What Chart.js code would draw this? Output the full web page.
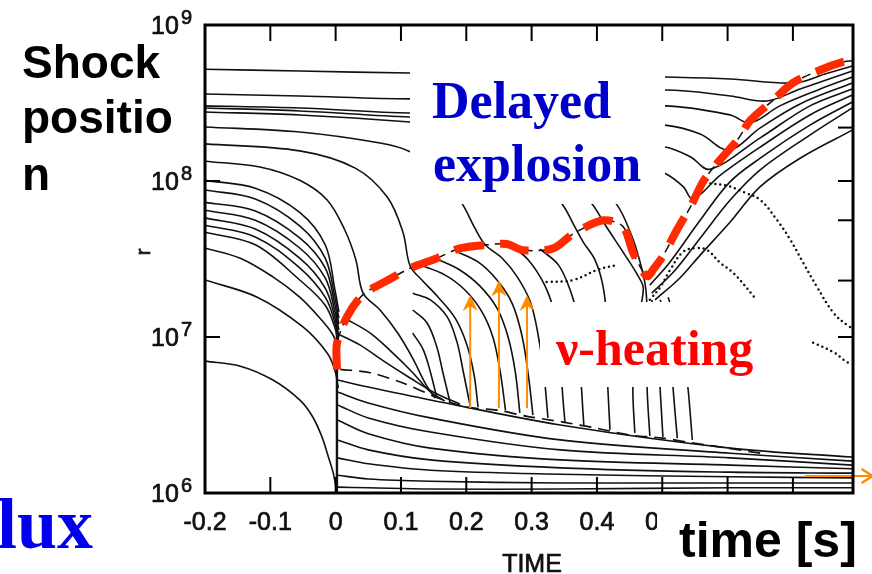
<!DOCTYPE html>
<html>
<head>
<meta charset="utf-8">
<title>Shock position – delayed explosion</title>
<style>
  html, body { margin: 0; padding: 0; background: #fff; }
  #wrap { width: 872px; height: 574px; }
</style>
<script src="https://cdn.jsdelivr.net/npm/chart.js@4.4.0/dist/chart.umd.min.js"></script>
</head>
<body>
<div id="wrap"><canvas id="c" width="872" height="574"></canvas></div>
<script>
// ---- axes -------------------------------------------------------------
const timeTicks      = [-0.2, -0.1, 0, 0.1, 0.2, 0.3, 0.4, 0.5, 0.6, 0.7];
const timeTickLabels = ['-0.2', '-0.1', '0', '0.1', '0.2', '0.3', '0.4', '0.5', '0.6', '0.7'];
const radiusDecades  = [1e6, 1e7, 1e8, 1e9];
const radiusExponent = ['6', '7', '8', '9'];
const rightAxisTicks = [2.2e8, 1e8, 5.6e7, 2.3e7, 1e7];

// ---- shock radius (s, cm) ----------------------------------------------
const shockTime   = [0.002, 0.002, 0.0175, 0.042, 0.079, 0.114, 0.155, 0.19, 0.232, 0.262, 0.287, 0.333, 0.364, 0.41, 0.44, 0.455, 0.471, 0.478, 0.486, 0.501, 0.523, 0.543, 0.563, 0.584, 0.615, 0.635, 0.67, 0.70, 0.742, 0.777, 0.792];
const shockRadius = [6.2e6, 9.1e6, 1.35e7, 1.87e7, 2.3e7, 2.76e7, 3.2e7, 3.7e7, 3.9e7, 3.95e7, 3.6e7, 3.7e7, 4.6e7, 5.6e7, 5.1e7, 3.5e7, 2.6e7, 2.45e7, 2.7e7, 3.3e7, 4.9e7, 6.8e7, 1.0e8, 1.3e8, 1.83e8, 2.45e8, 3.3e8, 4.25e8, 5.15e8, 5.8e8, 5.9e8];

// ---- settling boundary above the proto-neutron star ---------------------
const innerTime   = [0.007, 0.053, 0.103, 0.155, 0.201, 0.247, 0.293, 0.348, 0.40, 0.451, 0.501, 0.543, 0.596, 0.65];
const innerRadius = [6.2e6, 5.9e6, 5.07e6, 4.1e6, 3.55e6, 3.4e6, 3.1e6, 2.85e6, 2.6e6, 2.35e6, 2.25e6, 2.1e6, 1.95e6, 1.8e6];

// ---- outer mass shells: slow infall, then swept outward by the shock ---
const outerShell1 = [[-0.2,5.2e8],[-0.055,5.07e8],[0.114,4.92e8],[0.344,4.78e8],[0.504,4.64e8],[0.604,4.51e8],[0.703,4.25e8],[0.749,4.85e8],[0.791,5.46e8]];
const outerShell2 = [[-0.2,3.61e8],[-0.055,3.51e8],[0.114,3.36e8],[0.344,3.45e8],[0.504,3.83e8],[0.604,3.51e8],[0.66,3.26e8],[0.711,3.89e8],[0.791,5.07e8]];
const outerShell3 = [[-0.2,3.03e8],[-0.055,2.94e8],[0.114,2.73e8],[0.344,2.8e8],[0.504,3.03e8],[0.604,2.65e8],[0.635,2.36e8],[0.68,3.03e8],[0.742,3.89e8],[0.791,4.64e8]];
const outerShell4 = [[-0.2,2.94e8],[-0.055,2.81e8],[0.114,2.57e8],[0.344,2.46e8],[0.504,2.28e8],[0.558,2.0e8],[0.602,1.58e8],[0.65,2.19e8],[0.711,3.12e8],[0.791,4.25e8]];
const outerShell5 = [[-0.2,2.77e8],[-0.055,2.65e8],[0.114,2.39e8],[0.344,1.97e8],[0.504,1.65e8],[0.543,1.43e8],[0.573,1.19e8],[0.65,1.89e8],[0.726,3.03e8],[0.791,3.89e8]];
const outerShell6 = [[0.451,1.36e8],[0.504,1.12e8],[0.532,9.2e7],[0.547,7.67e7],[0.589,1.09e8],[0.65,1.65e8],[0.726,2.65e8],[0.791,3.56e8]];

// ---- shells lifted by neutrino heating after the shock dip ----------------
const ejectedShell1 = [[0.481,2.15e7],[0.512,3.03e7],[0.558,5.6e7],[0.604,9.9e7],[0.65,1.4e8],[0.726,2.28e8],[0.791,3.21e8]];
const ejectedShell2 = [[0.484,1.91e7],[0.52,2.69e7],[0.558,4.3e7],[0.604,7.55e7],[0.65,1.18e8],[0.726,1.97e8],[0.791,2.94e8]];
const ejectedShell3 = [[0.489,1.73e7],[0.527,2.39e7],[0.558,3.35e7],[0.604,5.46e7],[0.65,9.2e7],[0.711,1.4e8],[0.791,2.12e8]];

// ---- shells falling through the stalled shock ---------------------------
const fallShell1 = [[-0.2,2.22e8],[-0.055,2.06e8],[0.068,1.75e8],[0.114,1.54e8],[0.16,1.14e8],[0.195,7.0e7],[0.213,5.0e7],[0.229,3.9e7],[0.255,3.2e7],[0.278,2.43e7],[0.298,1.68e7],[0.31,1.03e7],[0.319,5.7e6],[0.325,3.03e6]];
const fallShell2 = [[-0.2,1.73e8],[-0.055,1.56e8],[0.03,1.21e8],[0.079,7.9e7],[0.103,4.7e7],[0.114,2.85e7],[0.132,2.32e7],[0.157,1.8e7],[0.183,1.32e7],[0.201,8.9e6],[0.212,5.7e6],[0.218,3.56e6]];
const fallShell3 = [[-0.2,1.34e8],[-0.116,1.23e8],[-0.055,1.01e8],[-0.013,7.55e7],[0.014,4.85e7],[0.031,3.12e7],[0.042,1.91e7],[0.068,1.49e7],[0.095,1.06e7],[0.118,7.3e6],[0.137,5.07e6],[0.152,4.06e6]];
const fallShell4 = [[0.282,1.58e8],[0.348,7.0e7],[0.367,5.0e7],[0.379,4.06e7],[0.397,3.12e7],[0.409,2.15e7],[0.415,1.29e7],[0.415,7.1e6],[0.417,4.44e6],[0.42,2.54e6]];
const fallShell5 = [[0.335,1.36e8],[0.394,7.0e7],[0.413,5.2e7],[0.443,3.35e7],[0.462,2.5e7],[0.471,2.06e7],[0.463,1.29e7],[0.457,7.1e6],[0.455,4.44e6],[0.458,2.43e6]];
const fallShell6 = [[0.374,1.36e8],[0.431,7.0e7],[0.451,4.7e7],[0.466,3.03e7],[0.475,2.0e7],[0.477,1.11e7],[0.477,6.6e6],[0.477,4.44e6],[0.481,2.32e6]];

// ---- core collapse before bounce (shared sampling times) ------------------
const collapseTime    = [-0.2, -0.123, -0.055, -0.016, -0.001, 0.005];
const collapseRadius1 = [1.01e8, 9.0e7, 6.3e7, 3.9e7, 2.0e7, 1.45e7];
const collapseRadius2 = [8.75e7, 7.67e7, 5.15e7, 3.2e7, 1.78e7, 1.32e7];
const collapseRadius3 = [7.3e7, 6.43e7, 4.32e7, 2.77e7, 1.6e7, 1.21e7];
const collapseRadius4 = [6.5e7, 5.6e7, 3.72e7, 2.39e7, 1.45e7, 1.11e7];
const collapseRadius5 = [5.8e7, 4.92e7, 3.2e7, 2.06e7, 1.32e7, 1.01e7];
const collapseRadius6 = [5.2e7, 4.38e7, 2.77e7, 1.8e7, 1.23e7, 9.3e6];
const collapseRadius7 = [4.7e7, 3.9e7, 2.32e7, 1.6e7, 1.14e7, 8.5e6];
const collapseShell8  = [[-0.2,3.72e7],[-0.146,3.2e7],[-0.096,2.43e7],[-0.055,1.8e7],[-0.024,1.32e7],[-0.004,1.03e7],[0.005,8.0e6]];
const collapseShell9  = [[-0.2,2.32e7],[-0.12,1.8e7],[-0.05,1.16e7],[-0.013,7.9e6],[-0.001,6.1e6],[0.004,4.71e6]];
const coreShell       = [[-0.2,7.0e6],[-0.146,6.5e6],[-0.096,5.3e6],[-0.055,3.95e6],[-0.035,3.07e6],[-0.021,2.29e6],[-0.012,1.75e6],[-0.004,1.36e6],[0.0,1.12e6],[0.002,1.0e6]];
const bounceLine      = [[0.002,1.45e7],[0.002,1.0e6]];

// ---- matter accreted through the shock ------------------------------------
const accreted1  = [[0.007,1.03e7],[0.037,8.9e6],[0.076,6.9e6],[0.114,5.46e6],[0.152,4.38e6],[0.19,3.72e6]];
const accreted2  = [[0.014,1.32e7],[0.053,1.06e7],[0.086,8.0e6],[0.117,5.97e6],[0.145,4.44e6],[0.167,3.89e6]];
const accreted3  = [[0.118,1.91e7],[0.145,1.73e7],[0.171,1.34e7],[0.186,9.2e6],[0.195,6.1e6],[0.206,3.61e6]];
const accreted4  = [[0.118,1.49e7],[0.14,1.23e7],[0.155,8.6e6],[0.164,5.97e6],[0.175,3.83e6]];
const accreted5  = [[0.118,1.06e7],[0.134,8.3e6],[0.145,5.97e6],[0.155,4.06e6]];
const accreted6  = [[0.129,2.9e7],[0.167,2.5e7],[0.198,2.0e7],[0.224,1.45e7],[0.241,9.9e6],[0.252,5.97e6],[0.26,3.4e6]];
const accreted7  = [[0.155,3.16e7],[0.19,2.69e7],[0.221,2.12e7],[0.247,1.53e7],[0.264,1.0e7],[0.275,5.97e6],[0.282,3.26e6]];
const accreted8  = [[0.183,3.56e7],[0.218,3.03e7],[0.247,2.32e7],[0.27,1.65e7],[0.285,1.03e7],[0.295,5.7e6],[0.302,3.16e6]];
const accreted9  = [[0.267,3.9e7],[0.295,3.12e7],[0.32,2.15e7],[0.336,1.38e7],[0.344,8.3e6],[0.347,4.57e6],[0.351,2.85e6]];
const accreted10 = [[0.313,3.66e7],[0.341,2.9e7],[0.359,2.0e7],[0.371,1.29e7],[0.374,7.1e6],[0.377,4.25e6],[0.38,2.69e6]];
const accreted11 = [[0.484,1.73e7],[0.491,1.03e7],[0.495,6.1e6],[0.497,4.44e6],[0.501,2.29e6]];
const accreted12 = [[0.497,1.73e7],[0.509,1.03e7],[0.515,6.1e6],[0.517,4.44e6],[0.523,2.25e6]];
const accreted13 = [[0.509,1.8e7],[0.527,1.03e7],[0.536,6.1e6],[0.54,4.44e6],[0.546,2.19e6]];

// ---- inner core shells after bounce (shared sampling times) ---------------
const coreTime    = [0.003, 0.05, 0.145, 0.344, 0.604, 0.791];
const coreRadius1 = [5.3e6, 4.78e6, 3.95e6, 2.73e6, 1.94e6, 1.70e6];
const coreRadius2 = [4.44e6, 3.78e6, 3.03e6, 2.19e6, 1.8e6, 1.6e6];
const coreRadius3 = [3.67e6, 3.03e6, 2.46e6, 1.89e6, 1.68e6, 1.51e6];
const coreRadius4 = [2.94e6, 2.4e6, 1.94e6, 1.63e6, 1.51e6, 1.43e6];
const coreRadius5 = [2.19e6, 1.89e6, 1.63e6, 1.45e6, 1.36e6, 1.34e6];
const coreRadius6 = [1.68e6, 1.54e6, 1.40e6, 1.32e6, 1.27e6, 1.25e6];
const coreRadius7 = [1.30e6, 1.23e6, 1.19e6, 1.16e6, 1.16e6, 1.16e6];
const coreRadius8 = [1.09e6, 1.08e6, 1.06e6, 1.06e6, 1.08e6, 1.08e6];

// ---- dotted shells -------------------------------------------------------
const dottedShell1 = [[0.323,2.25e7],[0.364,2.32e7],[0.4,2.69e7],[0.431,2.9e7]];
const dottedShell2 = [[0.481,1.73e7],[0.497,2.09e7],[0.512,2.69e7],[0.532,3.51e7],[0.553,3.72e7],[0.569,3.6e7],[0.589,2.98e7],[0.609,2.57e7],[0.642,1.78e7]];
const dottedShell3 = [[0.566,9.7e7],[0.6,9.3e7],[0.624,8.5e7],[0.65,7.55e7],[0.676,5.6e7],[0.696,4.2e7],[0.716,2.98e7],[0.737,2.09e7],[0.762,1.43e7],[0.783,1.19e7],[0.791,1.14e7]];
const dottedShell4 = [[0.731,9.2e6],[0.762,8.0e6],[0.783,6.9e6],[0.791,6.8e6]];

// ---- neutrino heating arrows and outflow arrow ----------------------------
const heatingArrowTime = [0.206, 0.250, 0.293];
const heatingArrowFrom = [3.5e6, 3.5e6, 3.5e6];
const heatingArrowTo   = [1.86e7, 2.3e7, 1.86e7];
const outflowArrowTime = [0.719, 0.822];
const outflowArrowR    = 1.285e6;

// ---- styling ---------------------------------------------------------------
const INK = '#111111';
const SHOCK_RED = '#ff2a00';
const ARROW_ORANGE = '#ff8c00';

const zip = (ts, rs) => ts.map((t, i) => [t, rs[i]]);
const toXY = pts => pts.map(p => ({ x: p[0], y: p[1] }));
function shell(pts, extra) {
  return Object.assign({
    data: toXY(pts), showLine: true, borderColor: INK, borderWidth: 1.6,
    pointRadius: 0, pointHoverRadius: 0, tension: 0.35, fill: false, order: 5
  }, extra || {});
}
const dotted = { borderDash: [0, 5], borderCapStyle: 'round', borderWidth: 2.5, tension: 0.4, order: 3 };

const datasets = [
  shell(zip(shockTime, shockRadius), { borderColor: SHOCK_RED, borderWidth: 8, borderDash: [30, 16], tension: 0.3, order: 0 }),
  shell(zip(shockTime, shockRadius), { borderWidth: 1.5, borderDash: [9, 6], tension: 0.3, order: 1 }),
  shell(zip(innerTime, innerRadius), { borderWidth: 1.7, borderDash: [12, 7], tension: 0.3, order: 1 }),
  shell(outerShell1), shell(outerShell2), shell(outerShell3),
  shell(outerShell4), shell(outerShell5), shell(outerShell6),
  shell(ejectedShell1), shell(ejectedShell2), shell(ejectedShell3),
  shell(fallShell1), shell(fallShell2), shell(fallShell3),
  shell(fallShell4), shell(fallShell5), shell(fallShell6),
  shell(zip(collapseTime, collapseRadius1)), shell(zip(collapseTime, collapseRadius2)),
  shell(zip(collapseTime, collapseRadius3)), shell(zip(collapseTime, collapseRadius4)),
  shell(zip(collapseTime, collapseRadius5)), shell(zip(collapseTime, collapseRadius6)),
  shell(zip(collapseTime, collapseRadius7)),
  shell(collapseShell8), shell(collapseShell9), shell(coreShell),
  shell(bounceLine, { borderWidth: 2.4, tension: 0 }),
  shell(accreted1), shell(accreted2), shell(accreted3), shell(accreted4),
  shell(accreted5), shell(accreted6), shell(accreted7), shell(accreted8),
  shell(accreted9), shell(accreted10), shell(accreted11), shell(accreted12), shell(accreted13),
  shell(zip(coreTime, coreRadius1)), shell(zip(coreTime, coreRadius2)),
  shell(zip(coreTime, coreRadius3)), shell(zip(coreTime, coreRadius4)),
  shell(zip(coreTime, coreRadius5)), shell(zip(coreTime, coreRadius6)),
  shell(zip(coreTime, coreRadius7)), shell(zip(coreTime, coreRadius8)),
  shell(dottedShell1, dotted), shell(dottedShell2, dotted),
  shell(dottedShell3, dotted), shell(dottedShell4, dotted)
];

// ---- annotations: frame, ticks, labels, captions ------------------------------
function heavyText(c, s, x, y) {
  c.fillText(s, x, y);
  c.strokeText(s, x, y);
}

const annotations = {
  id: 'annotations',
  beforeDraw(chart) {
    const c = chart.ctx;
    c.save();
    c.fillStyle = '#fff';
    c.fillRect(0, 0, chart.width, chart.height);
    c.restore();
  },
  afterDatasetsDraw(chart) {
    const c = chart.ctx, a = chart.chartArea, xs = chart.scales.x, ys = chart.scales.y;
    c.save();

    // heating arrows
    c.strokeStyle = ARROW_ORANGE; c.fillStyle = ARROW_ORANGE; c.lineWidth = 2;
    heatingArrowTime.forEach((t, i) => {
      const px = xs.getPixelForValue(t);
      const y0 = ys.getPixelForValue(heatingArrowFrom[i]);
      const y1 = ys.getPixelForValue(heatingArrowTo[i]);
      c.beginPath(); c.moveTo(px, y0); c.lineTo(px, y1 + 8); c.stroke();
      c.beginPath(); c.moveTo(px, y1); c.lineTo(px - 7.5, y1 + 16); c.lineTo(px, y1 + 11);
      c.lineTo(px + 7.5, y1 + 16); c.closePath(); c.fill();
    });
    // outflow arrow along the bottom
    {
      const x0 = xs.getPixelForValue(outflowArrowTime[0]);
      const x1 = xs.getPixelForValue(outflowArrowTime[1]);
      const py = ys.getPixelForValue(outflowArrowR);
      c.lineWidth = 2;
      c.beginPath(); c.moveTo(x0, py); c.lineTo(x1 - 2, py); c.stroke();
      c.lineWidth = 2.4;
      c.beginPath(); c.moveTo(x1 - 11, py - 7); c.lineTo(x1, py); c.lineTo(x1 - 11, py + 7); c.stroke();
    }

    // frame
    c.strokeStyle = '#000'; c.lineWidth = 3;
    c.strokeRect(a.left, a.top, a.right - a.left, a.bottom - a.top);
    c.lineWidth = 2;
    timeTicks.forEach(t => {
      const px = xs.getPixelForValue(t);
      if (px <= a.left + 2 || px >= a.right - 2) return;
      c.beginPath(); c.moveTo(px, a.top); c.lineTo(px, a.top + 16); c.stroke();
      c.beginPath(); c.moveTo(px, a.bottom); c.lineTo(px, a.bottom - 16); c.stroke();
    });
    radiusDecades.forEach(r => {
      const py = ys.getPixelForValue(r);
      if (py <= a.top + 2 || py >= a.bottom - 2) return;
      c.beginPath(); c.moveTo(a.left, py); c.lineTo(a.left + 15, py); c.stroke();
    });
    rightAxisTicks.forEach(r => {
      const py = ys.getPixelForValue(r);
      c.beginPath(); c.moveTo(a.right, py); c.lineTo(a.right - 15, py); c.stroke();
    });

    // caption panels inside the plot
    c.fillStyle = '#fff';
    c.fillRect(410, 50, 255, 154);
    c.fillRect(540, 302, 270, 85);

    // time tick labels (scan-weight text)
    c.fillStyle = '#111'; c.strokeStyle = '#111'; c.lineWidth = 0.7;
    c.font = '25px "Liberation Sans", Arial, sans-serif';
    c.textAlign = 'center'; c.textBaseline = 'alphabetic';
    timeTicks.forEach((t, i) => {
      heavyText(c, timeTickLabels[i], xs.getPixelForValue(t), 530);
    });
    // radius decade labels
    radiusDecades.forEach((r, i) => {
      const py = ys.getPixelForValue(r);
      c.textAlign = 'left';
      c.font = '25px "Liberation Sans", Arial, sans-serif';
      heavyText(c, '10', 151, py + 9);
      c.font = '20px "Liberation Sans", Arial, sans-serif';
      heavyText(c, radiusExponent[i], 181, py - 1);
    });
    // axis titles
    c.font = '25px "Liberation Sans", Arial, sans-serif';
    c.textAlign = 'center';
    heavyText(c, 'TIME', 532, 572);
    c.save();
    c.translate(150, 252); c.rotate(-Math.PI / 2);
    c.font = '20px "Liberation Sans", Arial, sans-serif';
    heavyText(c, 'r', 0, 0);
    c.restore();

    // panel behind the "time [s]" caption (covers the later tick labels)
    c.fillStyle = '#fff';
    c.fillRect(657, 500, 215, 74);

    // captions
    c.textAlign = 'left';
    c.fillStyle = '#000';
    c.font = 'bold 46px "Liberation Sans", Arial, sans-serif';
    c.fillText('Shock', 22, 78);
    c.fillText('positio', 22, 133);
    c.fillText('n', 22, 190);
    c.font = 'bold 50px "Liberation Sans", Arial, sans-serif';
    c.fillText('time [s]', 679, 557);

    c.fillStyle = '#0000cc';
    c.font = 'bold 52px "Liberation Serif", "Times New Roman", serif';
    c.fillText('Delayed', 432, 118);
    c.fillText('explosion', 433, 181);

    c.fillStyle = '#0000ee';
    c.font = 'bold 72px "Liberation Serif", "Times New Roman", serif';
    c.fillText('lux', -3, 548);

    c.fillStyle = '#ff0000';
    c.font = 'bold 50px "Liberation Serif", "Times New Roman", serif';
    c.fillText('\u03bd-heating', 556, 365);

    c.restore();
  }
};

new Chart(document.getElementById('c'), {
  type: 'scatter',
  data: { datasets },
  options: {
    responsive: false,
    devicePixelRatio: 1,
    animation: false,
    layout: { padding: { left: 205, right: 19, top: 25, bottom: 81 } },
    scales: {
      x: { type: 'linear', min: -0.2, max: 0.792, display: false },
      y: { type: 'logarithmic', min: 1e6, max: 1e9, display: false }
    },
    plugins: { legend: { display: false }, tooltip: { enabled: false } },
    events: []
  },
  plugins: [annotations]
});
</script>
</body>
</html>
